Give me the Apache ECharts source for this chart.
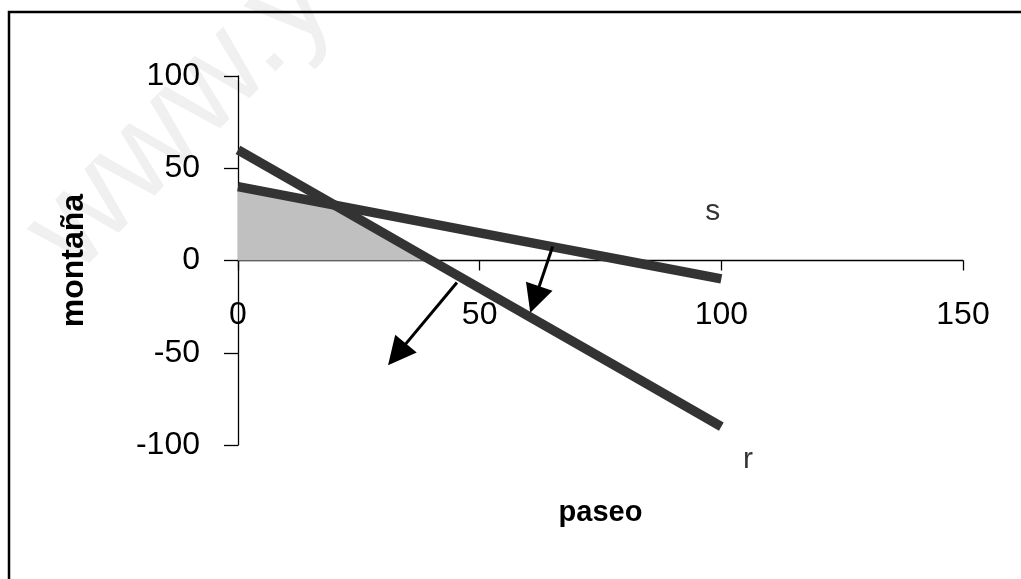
<!DOCTYPE html>
<html>
<head>
<meta charset="utf-8">
<script src="https://cdn.jsdelivr.net/npm/echarts@6/dist/echarts.min.js"></script>
<style>
html,body{margin:0;padding:0;background:#fff;}
#c{width:1021px;height:579px;}
</style>
</head>
<body>
<div id="c"></div>
<script>
// Data
const paseo = [0, 20, 40, 60, 80, 100];
const lineR = [60, 30, 0, -30, -60, -90];
const lineS = [40, 30, 20, 10, 0, -10];
const regionX = [0, 20, 40];
const regionY = [40, 30, 0];
const xTicks = [0, 50, 100, 150];
const yTicks = [-100, -50, 0, 50, 100];
const arrows = [
  [[45.3, -11.9], [32.9, -50.9]],
  [[65.1, 7.6], [61.4, -21.1]]
];
const lineLabels = [
  { name: 's', x: 98.2, y: 26.6 },
  { name: 'r', x: 105.5, y: -108 }
];

const FONT = 'Liberation Sans, Arial, sans-serif';
const chart = echarts.init(document.getElementById('c'), null, { renderer: 'canvas' });

const toPairs = (xs, ys) => xs.map((x, i) => [x, ys[i]]);

chart.setOption({
  backgroundColor: '#ffffff',
  animation: false,
  grid: { left: 238, right: 58, top: 76, bottom: 134, containLabel: false, outerBoundsMode: 'none' },
  xAxis: {
    type: 'value',
    min: xTicks[0], max: xTicks[xTicks.length - 1], interval: 50,
    name: 'paseo', nameLocation: 'middle', nameGap: 53,
    nameTextStyle: { fontFamily: FONT, fontSize: 29, fontWeight: 'bold', color: '#000' },
    axisLine: { onZero: true, lineStyle: { color: '#000', width: 1.3 } },
    axisTick: { show: true, length: 10, inside: false, lineStyle: { color: '#000', width: 1.3 } },
    axisLabel: { margin: -146, fontFamily: FONT, fontSize: 32, color: '#000', hideOverlap: false },
    splitLine: { show: false }
  },
  yAxis: {
    type: 'value',
    min: yTicks[0], max: yTicks[yTicks.length - 1], interval: 50,
    name: 'montaña', nameLocation: 'middle', nameGap: 148, nameRotate: 90,
    nameTextStyle: { fontFamily: FONT, fontSize: 32, fontWeight: 'bold', color: '#000' },
    axisLine: { show: true, onZero: false, lineStyle: { color: '#000', width: 1.3 } },
    axisTick: { show: true, length: 14, lineStyle: { color: '#000', width: 1.3 } },
    axisLabel: { margin: 38, fontFamily: FONT, fontSize: 32, color: '#000',
      verticalAlign: 'middle', padding: [0, 0, 14, 0], hideOverlap: false },
    splitLine: { show: false }
  },
  graphic: [
    {
      type: 'rect', z: -10, silent: true,
      shape: { x: 9, y: 12, width: 1200, height: 800 },
      style: { fill: 'none', stroke: '#000', lineWidth: 2.5 }
    },
    {
      type: 'text', z: -20, silent: true,
      x: 97, y: 297, rotation: 0.8,
      style: { text: 'www.y', fill: '#f0f0f0', font: '130px ' + FONT,
        textAlign: 'left', textVerticalAlign: 'bottom' }
    }
  ],
  series: [
    {
      type: 'line', name: 'region', data: toPairs(regionX, regionY),
      showSymbol: false, symbol: 'none',
      lineStyle: { width: 0 },
      areaStyle: { color: '#c0c0c0', opacity: 1 },
      z: 1
    },
    {
      type: 'line', name: 's', data: toPairs(paseo, lineS),
      symbol: 'none', lineStyle: { color: '#333333', width: 9.5, cap: 'butt' }, z: 3
    },
    {
      type: 'line', name: 'r', data: toPairs(paseo, lineR),
      symbol: 'none', lineStyle: { color: '#333333', width: 9.5, cap: 'butt' }, z: 3
    },
    {
      type: 'lines', coordinateSystem: 'cartesian2d', z: 4,
      symbol: ['none', 'triangle'], symbolSize: [0, 28],
      lineStyle: { color: '#000', width: 3, opacity: 1, curveness: 0 },
      itemStyle: { color: '#000' },
      data: arrows.map(a => ({ coords: a }))
    },
    {
      type: 'scatter', z: 5, clip: false, symbolSize: 0,
      data: lineLabels.map(l => ({ value: [l.x, l.y], name: l.name })),
      label: { show: true, position: 'inside', formatter: p => p.name,
        fontFamily: FONT, fontSize: 30, color: '#000' }
    }
  ]
});
</script>
</body>
</html>
